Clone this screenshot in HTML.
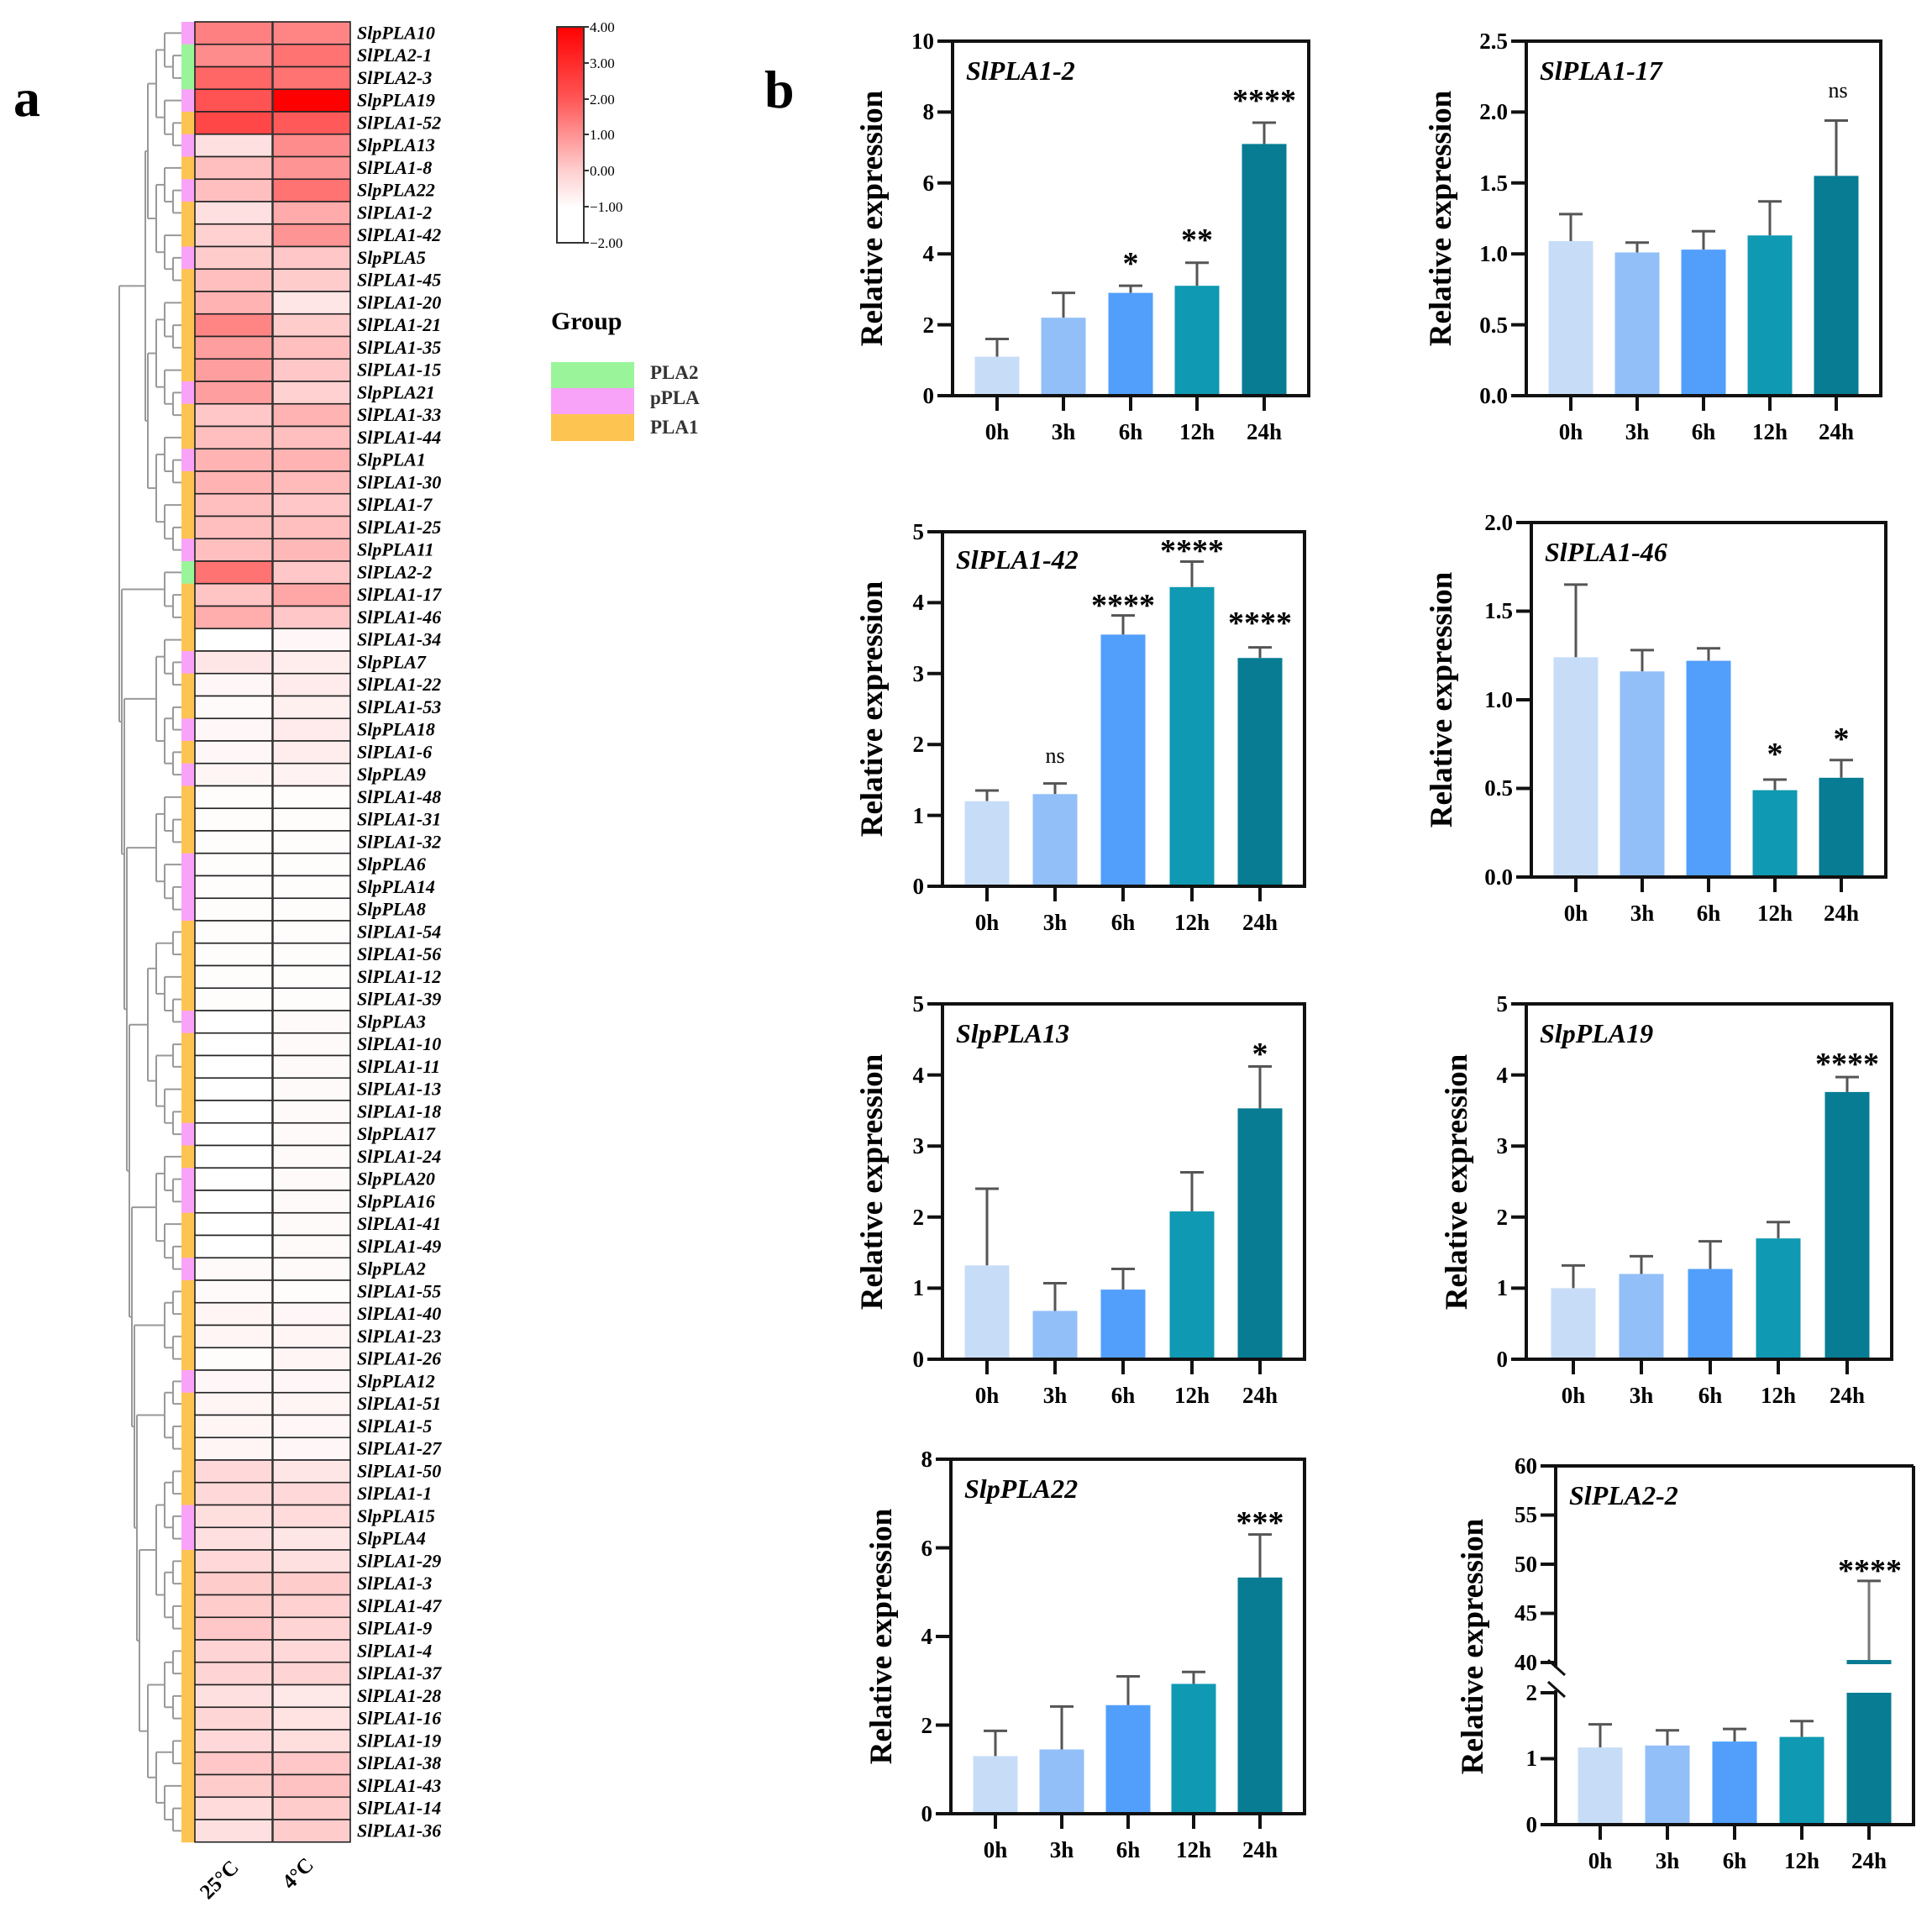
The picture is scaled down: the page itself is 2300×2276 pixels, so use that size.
<!DOCTYPE html>
<html><head><meta charset="utf-8">
<style>
html,body{margin:0;padding:0;background:#fff;}
svg{display:block;}
text{font-family:"Liberation Serif",serif;}
.tk{font-size:27px;font-weight:bold;text-anchor:end;}
.xl{font-size:27px;font-weight:bold;text-anchor:middle;}
.yl{font-size:37px;font-weight:bold;text-anchor:middle;}
.tt{font-size:32px;font-weight:bold;font-style:italic;}
.st{font-size:38px;font-weight:bold;text-anchor:middle;}
.ns{font-size:26px;text-anchor:middle;}
.gl{font-size:22px;font-weight:bold;font-style:italic;}
</style></head>
<body>
<svg id="s" width="2300" height="2276" viewBox="0 0 2300 2276" xmlns="http://www.w3.org/2000/svg">
<defs>
<linearGradient id="cg" x1="0" y1="0" x2="0" y2="1">
<stop offset="0" stop-color="#ff0000"/>
<stop offset="0.33" stop-color="#ff5555"/>
<stop offset="0.67" stop-color="#ffd0d0"/>
<stop offset="0.84" stop-color="#ffffff"/>
<stop offset="1" stop-color="#ffffff"/>
</linearGradient>
</defs>
<g id="shapes"></g>

<text x="16" y="138" font-size="64" font-weight="bold">a</text>
<text x="910" y="128" font-size="64" font-weight="bold">b</text>

<rect x="663" y="32" width="32" height="257" fill="url(#cg)" stroke="#333" stroke-width="2"/>
<g stroke="#333" stroke-width="2">
<line x1="695" y1="32" x2="701" y2="32"/><line x1="695" y1="75" x2="701" y2="75"/><line x1="695" y1="118" x2="701" y2="118"/><line x1="695" y1="160" x2="701" y2="160"/><line x1="695" y1="203" x2="701" y2="203"/><line x1="695" y1="246" x2="701" y2="246"/><line x1="695" y1="289" x2="701" y2="289"/>
</g>
<g font-size="17">
<text x="702" y="38">4.00</text><text x="702" y="81">3.00</text><text x="702" y="124">2.00</text><text x="702" y="166">1.00</text><text x="702" y="209">0.00</text><text x="702" y="252">−1.00</text><text x="702" y="295">−2.00</text>
</g>

<text x="656" y="392" font-size="30" font-weight="bold">Group</text>
<rect x="656" y="431" width="99" height="31" fill="#9af59a"/>
<rect x="656" y="462" width="99" height="31" fill="#f8a3f8"/>
<rect x="656" y="493" width="99" height="32" fill="#fec452"/>
<text x="774" y="451" font-size="23" font-weight="bold" fill="#333">PLA2</text>
<text x="774" y="481" font-size="23" font-weight="bold" fill="#333">pPLA</text>
<text x="774" y="516" font-size="23" font-weight="bold" fill="#333">PLA1</text>

<text class="gl" x="425" y="46.4"><tspan x="425">SlpPLA10</tspan><tspan x="425" dy="26.75">SlPLA2-1</tspan><tspan x="425" dy="26.75">SlPLA2-3</tspan><tspan x="425" dy="26.75">SlpPLA19</tspan><tspan x="425" dy="26.75">SlPLA1-52</tspan><tspan x="425" dy="26.75">SlpPLA13</tspan><tspan x="425" dy="26.75">SlPLA1-8</tspan><tspan x="425" dy="26.75">SlpPLA22</tspan><tspan x="425" dy="26.75">SlPLA1-2</tspan><tspan x="425" dy="26.75">SlPLA1-42</tspan><tspan x="425" dy="26.75">SlpPLA5</tspan><tspan x="425" dy="26.75">SlPLA1-45</tspan><tspan x="425" dy="26.75">SlPLA1-20</tspan><tspan x="425" dy="26.75">SlPLA1-21</tspan><tspan x="425" dy="26.75">SlPLA1-35</tspan><tspan x="425" dy="26.75">SlPLA1-15</tspan><tspan x="425" dy="26.75">SlpPLA21</tspan><tspan x="425" dy="26.75">SlPLA1-33</tspan><tspan x="425" dy="26.75">SlPLA1-44</tspan><tspan x="425" dy="26.75">SlpPLA1</tspan><tspan x="425" dy="26.75">SlPLA1-30</tspan><tspan x="425" dy="26.75">SlPLA1-7</tspan><tspan x="425" dy="26.75">SlPLA1-25</tspan><tspan x="425" dy="26.75">SlpPLA11</tspan><tspan x="425" dy="26.75">SlPLA2-2</tspan><tspan x="425" dy="26.75">SlPLA1-17</tspan><tspan x="425" dy="26.75">SlPLA1-46</tspan><tspan x="425" dy="26.75">SlPLA1-34</tspan><tspan x="425" dy="26.75">SlpPLA7</tspan><tspan x="425" dy="26.75">SlPLA1-22</tspan><tspan x="425" dy="26.75">SlPLA1-53</tspan><tspan x="425" dy="26.75">SlpPLA18</tspan><tspan x="425" dy="26.75">SlPLA1-6</tspan><tspan x="425" dy="26.75">SlpPLA9</tspan><tspan x="425" dy="26.75">SlPLA1-48</tspan><tspan x="425" dy="26.75">SlPLA1-31</tspan><tspan x="425" dy="26.75">SlPLA1-32</tspan><tspan x="425" dy="26.75">SlpPLA6</tspan><tspan x="425" dy="26.75">SlpPLA14</tspan><tspan x="425" dy="26.75">SlpPLA8</tspan><tspan x="425" dy="26.75">SlPLA1-54</tspan><tspan x="425" dy="26.75">SlPLA1-56</tspan><tspan x="425" dy="26.75">SlPLA1-12</tspan><tspan x="425" dy="26.75">SlPLA1-39</tspan><tspan x="425" dy="26.75">SlpPLA3</tspan><tspan x="425" dy="26.75">SlPLA1-10</tspan><tspan x="425" dy="26.75">SlPLA1-11</tspan><tspan x="425" dy="26.75">SlPLA1-13</tspan><tspan x="425" dy="26.75">SlPLA1-18</tspan><tspan x="425" dy="26.75">SlpPLA17</tspan><tspan x="425" dy="26.75">SlPLA1-24</tspan><tspan x="425" dy="26.75">SlpPLA20</tspan><tspan x="425" dy="26.75">SlpPLA16</tspan><tspan x="425" dy="26.75">SlPLA1-41</tspan><tspan x="425" dy="26.75">SlPLA1-49</tspan><tspan x="425" dy="26.75">SlpPLA2</tspan><tspan x="425" dy="26.75">SlPLA1-55</tspan><tspan x="425" dy="26.75">SlPLA1-40</tspan><tspan x="425" dy="26.75">SlPLA1-23</tspan><tspan x="425" dy="26.75">SlPLA1-26</tspan><tspan x="425" dy="26.75">SlpPLA12</tspan><tspan x="425" dy="26.75">SlPLA1-51</tspan><tspan x="425" dy="26.75">SlPLA1-5</tspan><tspan x="425" dy="26.75">SlPLA1-27</tspan><tspan x="425" dy="26.75">SlPLA1-50</tspan><tspan x="425" dy="26.75">SlPLA1-1</tspan><tspan x="425" dy="26.75">SlpPLA15</tspan><tspan x="425" dy="26.75">SlpPLA4</tspan><tspan x="425" dy="26.75">SlPLA1-29</tspan><tspan x="425" dy="26.75">SlPLA1-3</tspan><tspan x="425" dy="26.75">SlPLA1-47</tspan><tspan x="425" dy="26.75">SlPLA1-9</tspan><tspan x="425" dy="26.75">SlPLA1-4</tspan><tspan x="425" dy="26.75">SlPLA1-37</tspan><tspan x="425" dy="26.75">SlPLA1-28</tspan><tspan x="425" dy="26.75">SlPLA1-16</tspan><tspan x="425" dy="26.75">SlPLA1-19</tspan><tspan x="425" dy="26.75">SlPLA1-38</tspan><tspan x="425" dy="26.75">SlPLA1-43</tspan><tspan x="425" dy="26.75">SlPLA1-14</tspan><tspan x="425" dy="26.75">SlPLA1-36</tspan></text>
<text x="248" y="2262" font-size="25" font-weight="bold" transform="rotate(-45 248 2262)">25°C</text>
<text x="346" y="2250" font-size="25" font-weight="bold" transform="rotate(-45 346 2250)">4°C</text>

<g class="tk"><text x="1112" y="480">0</text><text x="1112" y="396">2</text><text x="1112" y="311">4</text><text x="1112" y="227">6</text><text x="1112" y="142">8</text><text x="1112" y="58">10</text></g>
<g class="xl"><text x="1187" y="523">0h</text><text x="1266" y="523">3h</text><text x="1346" y="523">6h</text><text x="1425" y="523">12h</text><text x="1505" y="523">24h</text></g>
<text class="tt" x="1150" y="95">SlPLA1-2</text>
<text class="yl" transform="translate(1050,260) rotate(-90)">Relative expression</text>
<text class="st" x="1346" y="326">*</text><text class="st" x="1425" y="298">**</text><text class="st" x="1505" y="132">****</text>

<g class="tk"><text x="1795" y="480">0.0</text><text x="1795" y="396">0.5</text><text x="1795" y="311">1.0</text><text x="1795" y="227">1.5</text><text x="1795" y="142">2.0</text><text x="1795" y="58">2.5</text></g>
<g class="xl"><text x="1870" y="523">0h</text><text x="1949" y="523">3h</text><text x="2028" y="523">6h</text><text x="2107" y="523">12h</text><text x="2186" y="523">24h</text></g>
<text class="tt" x="1833" y="95">SlPLA1-17</text>
<text class="yl" transform="translate(1727,260) rotate(-90)">Relative expression</text>
<text class="ns" x="2188" y="116">ns</text>

<g class="tk"><text x="1100" y="1064">0</text><text x="1100" y="980">1</text><text x="1100" y="895">2</text><text x="1100" y="811">3</text><text x="1100" y="726">4</text><text x="1100" y="642">5</text></g>
<g class="xl"><text x="1175" y="1107">0h</text><text x="1256" y="1107">3h</text><text x="1337" y="1107">6h</text><text x="1419" y="1107">12h</text><text x="1500" y="1107">24h</text></g>
<text class="tt" x="1138" y="677">SlPLA1-42</text>
<text class="yl" transform="translate(1050,844) rotate(-90)">Relative expression</text>
<text class="ns" x="1256" y="908">ns</text>
<text class="st" x="1337" y="733">****</text><text class="st" x="1419" y="668">****</text><text class="st" x="1500" y="754">****</text>

<g class="tk"><text x="1801" y="1053">0.0</text><text x="1801" y="947">0.5</text><text x="1801" y="842">1.0</text><text x="1801" y="736">1.5</text><text x="1801" y="631">2.0</text></g>
<g class="xl"><text x="1876" y="1096">0h</text><text x="1955" y="1096">3h</text><text x="2034" y="1096">6h</text><text x="2113" y="1096">12h</text><text x="2192" y="1096">24h</text></g>
<text class="tt" x="1839" y="668">SlPLA1-46</text>
<text class="yl" transform="translate(1728,833) rotate(-90)">Relative expression</text>
<text class="st" x="2113" y="910">*</text><text class="st" x="2192" y="892">*</text>

<g class="tk"><text x="1100" y="1627">0</text><text x="1100" y="1542">1</text><text x="1100" y="1458">2</text><text x="1100" y="1373">3</text><text x="1100" y="1289">4</text><text x="1100" y="1204">5</text></g>
<g class="xl"><text x="1175" y="1670">0h</text><text x="1256" y="1670">3h</text><text x="1337" y="1670">6h</text><text x="1419" y="1670">12h</text><text x="1500" y="1670">24h</text></g>
<text class="tt" x="1138" y="1241">SlpPLA13</text>
<text class="yl" transform="translate(1050,1407) rotate(-90)">Relative expression</text>
<text class="st" x="1500" y="1267">*</text>

<g class="tk"><text x="1795" y="1627">0</text><text x="1795" y="1542">1</text><text x="1795" y="1458">2</text><text x="1795" y="1373">3</text><text x="1795" y="1289">4</text><text x="1795" y="1204">5</text></g>
<g class="xl"><text x="1873" y="1670">0h</text><text x="1954" y="1670">3h</text><text x="2036" y="1670">6h</text><text x="2117" y="1670">12h</text><text x="2199" y="1670">24h</text></g>
<text class="tt" x="1833" y="1241">SlpPLA19</text>
<text class="yl" transform="translate(1746,1407) rotate(-90)">Relative expression</text>
<text class="st" x="2199" y="1279">****</text>

<g class="tk"><text x="1110" y="2168">0</text><text x="1110" y="2063">2</text><text x="1110" y="1957">4</text><text x="1110" y="1852">6</text><text x="1110" y="1746">8</text></g>
<g class="xl"><text x="1185" y="2211">0h</text><text x="1264" y="2211">3h</text><text x="1343" y="2211">6h</text><text x="1421" y="2211">12h</text><text x="1500" y="2211">24h</text></g>
<text class="tt" x="1148" y="1783">SlpPLA22</text>
<text class="yl" transform="translate(1061,1948) rotate(-90)">Relative expression</text>
<text class="st" x="1500" y="1825">***</text>

<g class="tk"><text x="1830" y="2181">0</text><text x="1830" y="2102">1</text><text x="1830" y="2024">2</text><text x="1830" y="1988">40</text><text x="1830" y="1929">45</text><text x="1830" y="1871">50</text><text x="1830" y="1812">55</text><text x="1830" y="1754">60</text></g>
<g class="xl"><text x="1905" y="2224">0h</text><text x="1985" y="2224">3h</text><text x="2065" y="2224">6h</text><text x="2145" y="2224">12h</text><text x="2225" y="2224">24h</text></g>
<text class="tt" x="1868" y="1791">SlPLA2-2</text>
<text class="yl" transform="translate(1765,1960) rotate(-90)">Relative expression</text>
<text class="st" x="2226" y="1882">****</text>
</svg>
<script>
(function(){
var NS="http://www.w3.org/2000/svg",g=document.getElementById("shapes");
function el(t,a){var e=document.createElementNS(NS,t);for(var k in a)e.setAttribute(k,a[k]);g.appendChild(e);return e;}
function ln(x1,y1,x2,y2,c,w){el("line",{x1:x1,y1:y1,x2:x2,y2:y2,stroke:c,"stroke-width":w});}
var grp="p22p1p1p11p11111p11p111p2111p11p1p111ppp1111p1111p1pp11p1111p11111pp1111111111111";
var v=[[.5,.48],[.45,.55],[.6,.55],[.68,1],[.72,.65],[.12,.45],[.25,.42],[.25,.55],[.12,.33],[.18,.42],
[.2,.22],[.25,.2],[.3,.1],[.48,.2],[.38,.25],[.38,.22],[.38,.18],[.22,.3],[.25,.25],[.3,.3],
[.3,.27],[.25,.22],[.25,.25],[.25,.28],[.55,.22],[.23,.35],[.32,.22],[0,.03],[.1,.07],[.03,.08],
[.02,.06],[.03,.08],[.03,.07],[.04,.05]];
for(var i=34;i<44;i++)v.push([.01,.01]);
for(i=44;i<55;i++)v.push([.0,.02]);
v=v.concat([[.02,.02],[.02,.01],[.04,.03],[.04,.04],[.01,.04],[.03,.03],[.04,.04],[.04,.03],[.04,.03],
[.15,.1],[.15,.15],[.13,.14],[.12,.1],[.15,.12],[.2,.2],[.2,.18],[.22,.17],[.17,.15],[.17,.17],[.12,.09],[.16,.11],[.15,.13],[.22,.22],[.2,.24],[.14,.2],[.12,.2]]);
var gc={p:"#f8a3f8","2":"#9af59a","1":"#fec452"};
var T0=26,H=26.75;
function col(t){var c=Math.round(255*(1-t));return "rgb(255,"+c+","+c+")";}
for(i=0;i<81;i++){var y=T0+i*H;
el("rect",{x:216,y:y,width:16,height:H+0.5,fill:gc[grp[i]]});
el("rect",{x:232,y:y,width:92.5,height:H,fill:col(v[i][0]),stroke:"#222","stroke-width":1.6});
el("rect",{x:324.5,y:y,width:92.5,height:H,fill:col(v[i][1]),stroke:"#222","stroke-width":1.6});}
el("line",{x1:324.5,y1:T0,x2:324.5,y2:T0+81*H,stroke:"#333","stroke-width":2.5});
var splits=[24,27,34,40,50,56,60,64];
function build(lo,hi,depth){ if(hi-lo==1){return {y:T0+lo*H+H/2,x:216};}
 var m=Math.floor((lo+hi)/2);
 for(var s=0;s<splits.length;s++){if(splits[s]>lo&&splits[s]<hi&&hi-lo>12){m=splits[s];break;}}
 var a=build(lo,m,depth+1),b=build(m,hi,depth+1);
 var x=Math.min(a.x,b.x)-(hi-lo>20?3:10);
 ln(x,a.y,a.x,a.y,"#999",2);ln(x,b.y,b.x,b.y,"#999",2);ln(x,a.y,x,b.y,"#999",2);
 return {x:x,y:(a.y+b.y)/2};}
var r=build(0,81,0);
var cols=["#c7ddf7","#92bff8","#529ffb","#0f99b2","#077c93"];
function chart(c){
 var s=(c.B-c.T)/c.max;
 for(var i=0;i<5;i++){var cx=c.cx[i],d=c.d[i];
  if(d){var yt=c.B-d[0]*s,ye=c.B-d[1]*s;
   ln(cx,ye,cx,yt,"#555",3);ln(cx-14,ye,cx+14,ye,"#555",3);
   el("rect",{x:cx-26.5,y:yt,width:53,height:c.B-yt,fill:cols[i]});}
  ln(cx,c.B,cx,c.B+18,"#111",4);}
 el("rect",{x:c.L,y:c.T,width:c.R-c.L,height:c.B-c.T,fill:"none",stroke:"#111","stroke-width":4});
 for(var j=0;j<=c.nt;j++){var y=c.B-j*(c.B-c.T)/c.nt;ln(c.L-18,y,c.L,y,"#111",4);}
}
chart({L:1134,R:1558,T:49,B:471,max:10,nt:5,cx:[1187,1266,1346,1425,1505],d:[[1.1,1.6],[2.2,2.9],[2.9,3.1],[3.1,3.75],[7.1,7.7]]});
chart({L:1817,R:2239,T:49,B:471,max:2.5,nt:5,cx:[1870,1949,2028,2107,2186],d:[[1.09,1.28],[1.01,1.08],[1.03,1.16],[1.13,1.37],[1.55,1.94]]});
chart({L:1122,R:1553,T:633,B:1055,max:5,nt:5,cx:[1175,1256,1337,1419,1500],d:[[1.2,1.35],[1.3,1.45],[3.55,3.82],[4.22,4.58],[3.22,3.37]]});
chart({L:1823,R:2245,T:622,B:1044,max:2,nt:4,cx:[1876,1955,2034,2113,2192],d:[[1.24,1.65],[1.16,1.28],[1.22,1.29],[0.49,0.55],[0.56,0.66]]});
chart({L:1122,R:1553,T:1195,B:1618,max:5,nt:5,cx:[1175,1256,1337,1419,1500],d:[[1.32,2.4],[0.68,1.07],[0.98,1.27],[2.08,2.63],[3.53,4.12]]});
chart({L:1817,R:2252,T:1195,B:1618,max:5,nt:5,cx:[1873,1954,2036,2117,2199],d:[[1.0,1.32],[1.2,1.45],[1.27,1.66],[1.7,1.93],[3.76,3.97]]});
chart({L:1132,R:1553,T:1737,B:2159,max:8,nt:4,cx:[1185,1264,1343,1421,1500],d:[[1.3,1.87],[1.45,2.42],[2.45,3.1],[2.93,3.2],[5.33,6.3]]});
(function(){var L=1852,R=2278,T=1745,B=2172,cx=[1905,1985,2065,2145,2225],s=78.5;
 var d=[[1.17,1.52],[1.2,1.43],[1.26,1.45],[1.33,1.57]];
 for(var i=0;i<5;i++){var x=cx[i];
  if(i<4){var yt=B-d[i][0]*s,ye=B-d[i][1]*s;ln(x,ye,x,yt,"#555",3);ln(x-14,ye,x+14,ye,"#555",3);
   el("rect",{x:x-26.5,y:yt,width:53,height:B-yt,fill:cols[i]});}
  ln(x,B,x,B+18,"#111",4);}
 el("rect",{x:cx[4]-26.5,y:2015,width:53,height:B-2015,fill:cols[4]});
 var ye=1979-8.3*11.7;ln(cx[4],ye,cx[4],1977,"#777",3);ln(cx[4]-14,ye,cx[4]+14,ye,"#555",3);
 el("rect",{x:cx[4]-26.5,y:1976,width:53,height:5,fill:cols[4]});
 ln(L,T,R,T,"#111",4);ln(R,T,R,B,"#111",4);ln(L-2,B,R+2,B,"#111",4);
 ln(L,T-2,L,1985,"#111",4);ln(L,2012,L,B,"#111",4);
 ln(L-9,1976,L+11,1994,"#111",3);ln(L-9,2002,L+11,2020,"#111",3);
 var ys=[2172,2093.5,2015,1979,1920.5,1862,1803.5,1745];
 for(var j=0;j<ys.length;j++)ln(L-18,ys[j],L,ys[j],"#111",4);
})();
})();
</script>
</body></html>
